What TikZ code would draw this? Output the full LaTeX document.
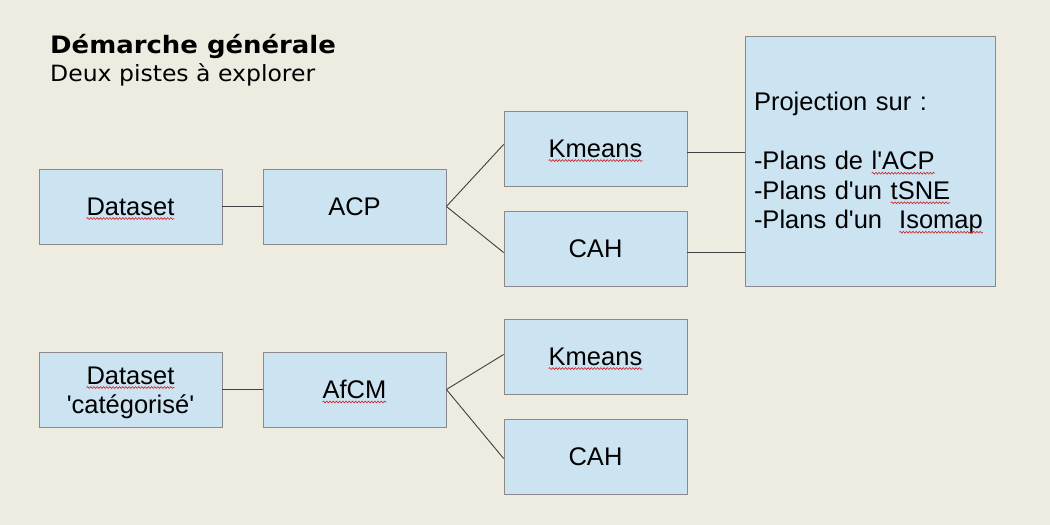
\documentclass[tikz,border=0pt]{standalone}
\usepackage{fontspec}
\usetikzlibrary{decorations.pathmorphing}
\newfontfamily\boxf{Liberation Sans}
\newfontfamily\titlef{DejaVu Sans}
\definecolor{bgc}{HTML}{EEEBE0}
\definecolor{boxfill}{HTML}{CCE3F2}
\definecolor{boxline}{HTML}{8A8A8A}
\definecolor{conn}{HTML}{404040}
\definecolor{squigc}{HTML}{D02020}
\tikzset{
  wordnode/.style={inner sep=0pt, outer sep=0pt, minimum width=0pt, minimum height=0pt, draw=none, fill=none, text width={}, align=center},
  squig/.style={draw=squigc, line width=0.6pt, overlay, decorate, decoration={snake, amplitude=0.9pt, segment length=3.2pt}},
  box/.style={draw=boxline, fill=boxfill, line width=0.8pt, minimum width=183pt, minimum height=75pt, inner sep=0pt, font=\boxf\fontsize{25.5}{29.5}\selectfont, align=center},
  conline/.style={draw=conn, line width=0.9pt}
}
\newcommand\sq[1]{\tikz[baseline=(w.base)]{\node[wordnode] (w) {#1}; \path[squig] ([yshift=-3.4pt]w.base west) -- ([yshift=-3.4pt]w.base east);}}
\begin{document}
\begin{tikzpicture}[x=1pt,y=-1pt]
\useasboundingbox (0,0) rectangle (1050,525);
\fill[bgc] (0,0) rectangle (1050,525);
\node[anchor=base west, inner sep=0pt, xscale=1.08, transform shape, font=\titlef\bfseries\fontsize{24}{28}\selectfont] (title) at (50,53) {Démarche générale};
\node[anchor=base west, inner sep=0pt, xscale=1.05, transform shape, font=\titlef\fontsize{22.4}{27}\selectfont] (sub) at (50,81.5) {Deux pistes à explorer};
\node[box] (ds) at (130.5,206.5) {\sq{Dataset}};
\node[box] (acp) at (354.5,206.5) {ACP};
\node[box] (km1) at (595.5,148.5) {\sq{Kmeans}};
\node[box] (cah1) at (595.5,248.5) {CAH};
\node[box, minimum width=250pt, minimum height=250pt, text width=232pt, inner xsep=9pt, align=left] (proj) at (870,161) {\rule{0pt}{23pt}Projection sur :\\[29.5pt]-Plans de \sq{l'ACP}\\-Plans d'un \sq{tSNE}\\-Plans d'un\ \ \sq{Isomap}};
\node[box] (dsc) at (130.5,389.5) {\rule{0pt}{24pt}\sq{Dataset}\\'catégorisé'};
\node[box] (afcm) at (354.5,389.5) {\sq{AfCM}};
\node[box] (km2) at (595.5,356.5) {\sq{Kmeans}};
\node[box] (cah2) at (595.5,456.5) {CAH};
\draw[conline] (ds) -- (acp);
\draw[conline] (acp.east) -- ([yshift=4pt]km1.west);
\draw[conline] (acp.east) -- ([yshift=-4pt]cah1.west);
\draw[conline] ([yshift=-4pt]km1.east) -- ([yshift=-4pt]km1.east -| proj.west);
\draw[conline] ([yshift=-4pt]cah1.east) -- ([yshift=-4pt]cah1.east -| proj.west);
\draw[conline] (dsc) -- (afcm);
\draw[conline] (afcm.east) -- ([yshift=2pt]km2.west);
\draw[conline] (afcm.east) -- ([yshift=-2pt]cah2.west);
\end{tikzpicture}
\end{document}
